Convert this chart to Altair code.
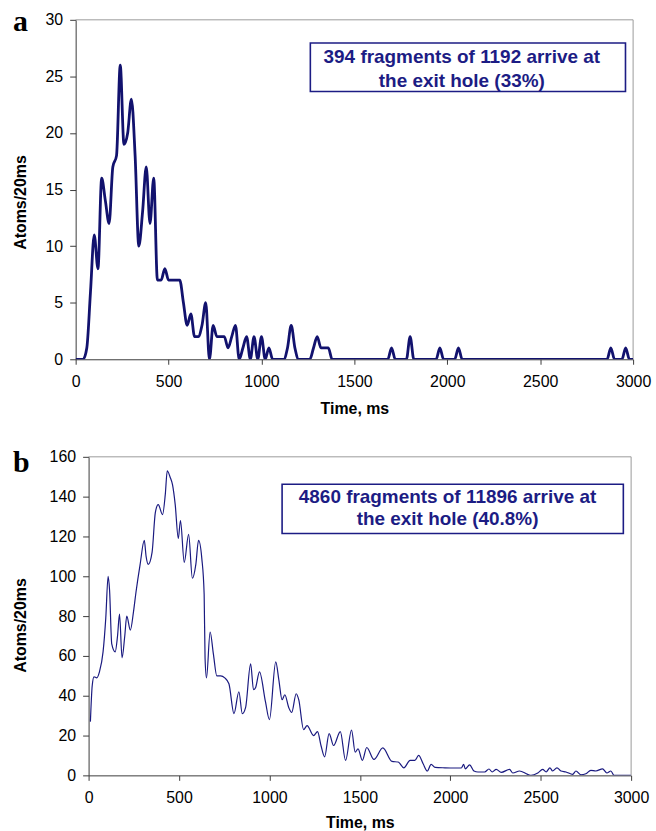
import altair as alt
import pandas as pd

# ---- panel a: atoms per 20 ms bin, 1192 fragments -----------------------
a_time = list(range(0, 3001, 20))
a_atoms = [
    0, 0, 0, 1, 6, 11, 8, 16, 14, 12,
    17, 18, 26, 19, 20, 23, 18, 10, 13, 17,
    12, 16, 7, 7, 8, 7, 7, 7, 7, 5,
    3, 4, 2, 2, 3, 5, 0, 3, 2, 2,
    2, 1, 2, 3, 0, 1, 2, 0, 2, 0,
    2, 0, 1, 0, 0, 0, 0, 1, 3, 1,
    0, 0, 0, 0, 1, 2, 1, 1, 1, 0,
    0, 0, 0, 0, 0, 0, 0, 0, 0, 0,
    0, 0, 0, 0, 0, 1, 0, 0, 0, 0,
    2, 0, 0, 0, 0, 0, 0, 0, 1, 0,
    0, 0, 0, 1, 0, 0, 0, 0, 0, 0,
    0, 0, 0, 0, 0, 0, 0, 0, 0, 0,
    0, 0, 0, 0, 0, 0, 0, 0, 0, 0,
    0, 0, 0, 0, 0, 0, 0, 0, 0, 0,
    0, 0, 0, 0, 1, 0, 0, 0, 1, 0,
    0,
]

# ---- panel b: atoms per 20 ms, 11896 fragments ----------------------------
b_time = [
    10, 20, 30, 45, 60, 80, 95, 108, 116, 128,
    147, 160, 171, 185, 200, 211, 231, 248, 262, 285,
    308, 318, 330, 351, 369, 385, 409, 424, 435, 450,
    464, 479, 496, 508, 529, 553, 574, 593, 608, 626,
    639, 644, 652, 672, 690, 709, 730, 753, 776, 804,
    831, 850, 868, 896, 912, 923, 945, 978, 1000, 1035,
    1052, 1070, 1085, 1107, 1123, 1148, 1162, 1189, 1208, 1244,
    1266, 1285, 1305, 1330, 1355, 1392, 1421, 1454, 1474, 1490,
    1514, 1538, 1578, 1627, 1678, 1712, 1743, 1778, 1804, 1825,
    1850, 1873, 1894, 1916, 1970, 2024, 2061, 2074, 2083, 2107,
    2131, 2153, 2190, 2214, 2232, 2254, 2282, 2328, 2346, 2383,
    2428, 2447, 2484, 2511, 2530, 2551, 2566, 2590, 2612, 2640,
    2677, 2695, 2722, 2750, 2777, 2805, 2842, 2866, 2888, 2906,
    2998,
]
b_atoms = [
    27, 45, 49.5, 49, 52, 62, 79, 100, 93, 66,
    62, 70, 81, 59, 70, 80, 73, 82, 92, 106,
    118, 110, 106, 112, 132, 136, 131, 141, 153, 150,
    146, 136, 119, 128, 107, 121, 99, 106, 118, 109,
    91, 59, 49, 72, 61, 50, 50, 49, 46, 31,
    42, 31, 34, 56, 43, 44, 52, 37, 28, 57,
    48, 38, 40.5, 34, 31.6, 41, 38, 23, 25, 20,
    22, 15, 9.3, 21, 15, 22, 7.5, 22.8, 11.7, 13.3,
    7.5, 14, 8, 13.8, 7, 6.7, 3.8, 7.5, 7.5, 10,
    5.8, 2.2, 5.5, 4, 3.8, 3.7, 3.7, 5.5, 3.3, 5.3,
    2.2, 1.7, 1.7, 3.2, 1.7, 3, 1.5, 3, 1.2, 2.2,
    0.5, 0, 1.2, 3, 1.7, 3.8, 2.2, 3.8, 2.2, 1.7,
    0.5, 2.2, 0.3, 0.8, 2.5, 2.2, 3.3, 1.2, 2.2, 0,
    0,
]
assert len(a_time) == len(a_atoms) and len(b_time) == len(b_atoms)

# annotation boxes (data coordinates) and their two text lines
a_note = ["394 fragments of 1192 arrive at", "the exit hole (33%)"]
a_box = dict(t0=1263, t1=2959, v0=23.66, v1=27.95)
a_note_pos = dict(t=2078, v=[26.68, 24.63])

b_note = ["4860 fragments of 11896 arrive at", "the exit hole (40.8%)"]
b_box = dict(t0=1070, t1=2957, v0=121.5, v1=146.2)
b_note_pos = dict(t=1985, v=[139.9, 128.7])

x_ticks = [0, 500, 1000, 1500, 2000, 2500, 3000]
a_y_ticks = [0, 5, 10, 15, 20, 25, 30]
b_y_ticks = [0, 20, 40, 60, 80, 100, 120, 140, 160]

FONT = "Liberation Sans"
LINE_NAVY = "#12126e"
TEXT_NAVY = "#1c1c84"
AXIS_COL = "#3a3a3a"
FRAME_COL = "#9a9a9a"


def panel(times, atoms, ymax, yticks, letter, note, box, note_pos,
          width, height, x_shift, line_width, line_color,
          ytitle_x, ytitle_y, xtitle_y):
    x_axis = alt.Axis(
        values=x_ticks, format="d", title="Time, ms", grid=False,
        labelFont=FONT, labelFontSize=16, labelColor="black", labelPadding=9,
        labelFlush=False, tickSize=5, tickColor=AXIS_COL, domainColor=AXIS_COL,
        titleFont=FONT, titleFontSize=16, titleFontWeight="bold", titleColor="black",
        titleX=x_shift + (width - x_shift) / 2, titleY=xtitle_y,
        titleBaseline="middle", titleAlign="center",
    )
    y_axis = alt.Axis(
        values=yticks, format="d", title="Atoms/20ms", grid=False,
        labelFont=FONT, labelFontSize=16, labelColor="black", labelPadding=7,
        tickSize=6, tickColor=AXIS_COL, domainColor=AXIS_COL,
        titleFont=FONT, titleFontSize=16, titleFontWeight="bold", titleColor="black",
        titleX=ytitle_x, titleY=ytitle_y, titleBaseline="middle", titleAlign="center",
        offset=-x_shift,
    )
    xs = alt.Scale(domain=[0, 3000], range=[x_shift, width], nice=False, zero=False)
    ys = alt.Scale(domain=[0, ymax], nice=False)

    def X(f):
        return alt.X(f, type="quantitative", scale=xs, axis=x_axis)

    def Y(f):
        return alt.Y(f, type="quantitative", scale=ys, axis=y_axis)

    df = pd.DataFrame({"t": times, "v": atoms})
    line = alt.Chart(df).mark_line(
        interpolate="monotone", color=line_color, strokeWidth=line_width,
        strokeJoin="round", clip=True,
    ).encode(x=X("t"), y=Y("v"))

    frame = pd.DataFrame({"t": [0, 3000], "t2": [3000, 3000],
                          "v": [ymax, 0], "v2": [ymax, ymax]})
    border = alt.Chart(frame).mark_rule(color=FRAME_COL, strokeWidth=1).encode(
        x=X("t"), x2="t2", y=Y("v"), y2="v2")

    bdf = pd.DataFrame({"t": [box["t0"]], "t2": [box["t1"]],
                        "v": [box["v0"]], "v2": [box["v1"]]})
    rect = alt.Chart(bdf).mark_rect(fill="white", stroke=TEXT_NAVY, strokeWidth=1.6).encode(
        x=X("t"), x2="t2", y=Y("v"), y2="v2")

    ndf = pd.DataFrame({"t": [note_pos["t"]] * 2, "v": note_pos["v"], "txt": note})
    text = alt.Chart(ndf).mark_text(
        font=FONT, fontSize=19, fontWeight="bold", color=TEXT_NAVY,
        align="center", baseline="middle",
    ).encode(x=X("t"), y=Y("v"), text="txt:N")

    ldf = pd.DataFrame({"lab": [letter]})
    tag = alt.Chart(ldf).mark_text(
        font="Liberation Serif", fontSize=30, fontWeight="bold", color="black",
        align="left", baseline="alphabetic",
    ).encode(x=alt.value(-63), y=alt.value(11 if letter == "a" else 15), text="lab:N")

    return alt.layer(border, line, rect, text, tag).properties(width=width, height=height)


chart_a = panel(a_time, a_atoms, 30, a_y_ticks, "a", a_note, a_box, a_note_pos,
                width=560, height=341, x_shift=0, line_width=2.8, line_color=LINE_NAVY,
                ytitle_x=-55, ytitle_y=183, xtitle_y=49)
chart_b = panel(b_time, b_atoms, 160, b_y_ticks, "b", b_note, b_box, b_note_pos,
                width=558, height=320, x_shift=13, line_width=1.2, line_color="#1a1a80",
                ytitle_x=-68, ytitle_y=169, xtitle_y=47)

chart = alt.vconcat(chart_a, chart_b, spacing=32).properties(
    padding={"left": 13, "top": 5, "right": 5, "bottom": 5}
).configure_view(stroke=None)

chart.save("out.html", embed_options={"renderer": "svg", "actions": False})
